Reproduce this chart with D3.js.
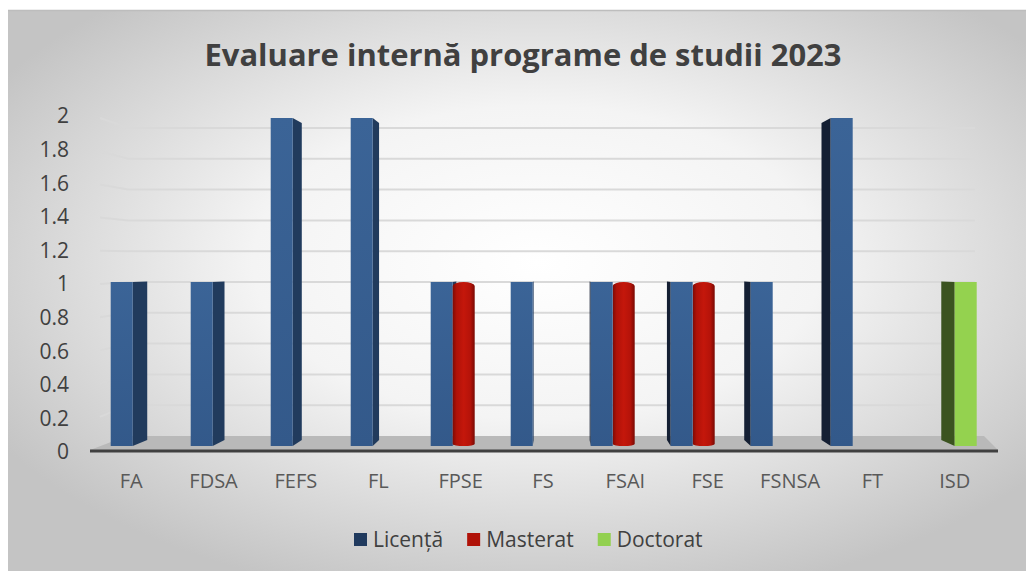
<!DOCTYPE html>
<html>
<head>
<meta charset="utf-8">
<script src="https://cdn.jsdelivr.net/npm/d3@7"></script>
<style>
  body { margin: 0; background: #fff; }
  svg { display: block; font-family: "Open Sans", "Noto Sans", sans-serif; }
</style>
</head>
<body>
<div id="chart"></div>
<script>
// data
var categories = ["FA", "FDSA", "FEFS", "FL", "FPSE", "FS", "FSAI", "FSE", "FSNSA", "FT", "ISD"];
var seriesNames = ["Licență", "Masterat", "Doctorat"];
var licenta = [1, 1, 2, 2, 1, 1, 1, 1, 1, 2, 0];
var masterat = [0, 0, 0, 0, 1, 0, 1, 1, 0, 0, 0];
var doctorat = [0, 0, 0, 0, 0, 0, 0, 0, 0, 0, 1];
var yTicks = [0, 0.2, 0.4, 0.6, 0.8, 1, 1.2, 1.4, 1.6, 1.8, 2];
var title = "Evaluare internă programe de studii 2023";

var width = 1026, height = 571;
var svg = d3.select("#chart").append("svg")
    .attr("width", width)
    .attr("height", height);

var defs = svg.append("defs");

// soft radial background of the chart panel
var bg = defs.append("radialGradient").attr("id", "bg")
    .attr("cx", "52%").attr("cy", "45%").attr("r", "62%");
bg.append("stop").attr("offset", "0%").attr("stop-color", "#ffffff");
bg.append("stop").attr("offset", "45%").attr("stop-color", "#f4f4f4");
bg.append("stop").attr("offset", "100%").attr("stop-color", "#c4c4c4");

var gLic = defs.append("linearGradient").attr("id", "lic")
    .attr("x1", 0).attr("y1", 0).attr("x2", 0).attr("y2", 1);
gLic.append("stop").attr("offset", "0%").attr("stop-color", "#3b6497");
gLic.append("stop").attr("offset", "100%").attr("stop-color", "#33598a");

var gMas = defs.append("linearGradient").attr("id", "mas")
    .attr("x1", 0).attr("y1", 0).attr("x2", 1).attr("y2", 0);
[["0%", "#7e0b05"], ["18%", "#b01208"], ["50%", "#c4170b"], ["80%", "#b51309"], ["100%", "#7a0a04"]]
    .forEach(function (s) {
        gMas.append("stop").attr("offset", s[0]).attr("stop-color", s[1]);
    });

svg.append("rect")
    .attr("x", 8).attr("y", 10)
    .attr("width", width - 8).attr("height", height - 10)
    .attr("fill", "url(#bg)");
svg.append("line")
    .attr("x1", 8).attr("x2", width).attr("y1", 10.5).attr("y2", 10.5)
    .attr("stroke", "#bdbdbd").attr("stroke-width", 1.5);

// scales
var xLabel = d3.scaleBand().domain(categories).range([90, 996]);
var xBar = d3.scaleBand().domain(categories).range([103.7, 983.7]);
var xSeries = d3.scaleBand().domain(seriesNames).range([7, 73]);
var yBar = d3.scaleLinear().domain([0, 2]).range([446, 118]);
var yWall = d3.scaleLinear().domain([0, 2]).range([436, 128]);
var yFront = d3.scaleLinear().domain([0, 2]).range([450, 118]);
var yLabel = d3.scaleLinear().domain([0, 2]).range([452, 116]);

// perspective of the 3d look
var vp = { x: 560, y: 267 }, depth = 0.034;

// title
svg.append("text")
    .attr("x", 523).attr("y", 66)
    .attr("text-anchor", "middle")
    .attr("font-size", 30)
    .attr("font-weight", "bold")
    .attr("fill", "#404040")
    .attr("textLength", 637)
    .attr("lengthAdjust", "spacingAndGlyphs")
    .text(title);

// floor
svg.append("polygon")
    .attr("points", [[90, 450], [998, 450], [984, 436], [127, 436]].join(" "))
    .attr("fill", "#b9b9b9");

// gridlines on side and back walls
svg.append("g").selectAll("polyline")
    .data(yTicks.slice(1))
    .enter().append("polyline")
    .attr("points", function (d) {
        return [[100, yFront(d)], [128, yWall(d)], [975, yWall(d)]].join(" ");
    })
    .attr("fill", "none")
    .attr("stroke", "#d9d9d9")
    .attr("stroke-width", 2);

// y tick labels
svg.append("g").selectAll("text")
    .data(yTicks)
    .enter().append("text")
    .attr("x", 69)
    .attr("y", function (d) { return yLabel(d); })
    .attr("dy", "0.35em")
    .attr("text-anchor", "end")
    .attr("font-size", 21)
    .attr("fill", "#404040")
    .text(function (d) { return d3.format("~g")(d); });

// bars
var seriesValues = [licenta, masterat, doctorat];
var bars = [];
categories.forEach(function (c, i) {
    var list = [];
    seriesNames.forEach(function (s, j) {
        if (seriesValues[j][i] > 0) {
            list.push({ cat: c, series: s, idx: j, value: seriesValues[j][i] });
        }
    });
    var mid = xBar(c) + xBar.bandwidth() / 2;
    if (mid > vp.x) list.reverse();
    bars = bars.concat(list);
});

function back(x, y) {
    return [x + (vp.x - x) * depth, y + (vp.y - y) * depth];
}

var gBars = svg.append("g");
bars.forEach(function (d) {
    var x0 = xBar(d.cat) + xSeries(d.series);
    var x1 = x0 + xSeries.bandwidth();
    var yt = yBar(d.value), yb = yBar(0);
    var g = gBars.append("g");

    if (d.idx === 1) {
        // cylinder
        var r = xSeries.bandwidth() / 2, ry = 4;
        var path = "M" + x0 + "," + (yt + ry) +
            " A" + r + "," + ry + " 0 0 1 " + x1 + "," + (yt + ry) +
            " L" + x1 + "," + (yb - 2) +
            " A" + r + "," + 2 + " 0 0 1 " + x0 + "," + (yb - 2) + " Z";
        g.append("path").attr("d", path).attr("fill", "url(#mas)");
        return;
    }

    var front = d.idx === 0 ? "url(#lic)" : "#94d24f";
    var side;
    if (x1 < vp.x) {
        side = d.idx === 0 ? "#213b5d" : "#3b5320";
        g.append("polygon")
            .attr("points", [[x1, yt], back(x1, yt), back(x1, yb), [x1, yb]].join(" "))
            .attr("fill", side);
    } else if (x0 > vp.x) {
        side = d.idx === 0 ? "#141f33" : "#3b5320";
        g.append("polygon")
            .attr("points", [[x0, yt], back(x0, yt), back(x0, yb), [x0, yb]].join(" "))
            .attr("fill", side);
    }
    g.append("rect")
        .attr("x", x0).attr("y", yt)
        .attr("width", x1 - x0).attr("height", yb - yt)
        .attr("fill", front);
});

// baseline
svg.append("line")
    .attr("x1", 90).attr("x2", 998)
    .attr("y1", 451).attr("y2", 451)
    .attr("stroke", "#404040").attr("stroke-width", 3);

// category labels
svg.append("g").selectAll("text")
    .data(categories)
    .enter().append("text")
    .attr("x", function (d) { return xLabel(d) + xLabel.bandwidth() / 2; })
    .attr("y", 481)
    .attr("dy", "0.35em")
    .attr("text-anchor", "middle")
    .attr("font-size", 20)
    .attr("fill", "#595959")
    .text(function (d) { return d; });

// legend
var legendColors = ["#203a5e", "#b01208", "#92d050"];
var lx = 354;
var gLegend = svg.append("g");
seriesNames.forEach(function (s, j) {
    gLegend.append("rect")
        .attr("x", lx).attr("y", 533)
        .attr("width", 13).attr("height", 13)
        .attr("fill", legendColors[j]);
    var t = gLegend.append("text")
        .attr("x", lx + 19).attr("y", 540)
        .attr("dy", "0.35em")
        .attr("font-size", 21)
        .attr("fill", "#404040")
        .text(s);
    lx += 19 + t.node().getComputedTextLength() + 24;
});
</script>
</body>
</html>
